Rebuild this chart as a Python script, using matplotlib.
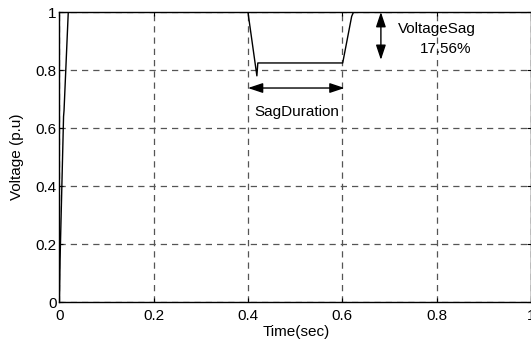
import matplotlib
matplotlib.use("Agg")
import matplotlib.pyplot as plt

# Voltage waveform breakpoints (time in s, voltage in p.u.)
time = [0.0, 0.0015, 0.009, 0.010, 0.019, 0.400, 0.419, 0.421, 0.601, 0.620, 0.624, 1.0]
voltage = [0.0, 0.14, 0.64, 0.66, 1.0, 1.0, 0.78, 0.8244, 0.8244, 0.985, 1.0, 1.0]

xticks = [0, 0.2, 0.4, 0.6, 0.8, 1]
yticks = [0, 0.2, 0.4, 0.6, 0.8, 1]
xtick_labels = ["0", "0.2", "0.4", "0.6", "0.8", "1"]
ytick_labels = ["0", "0.2", "0.4", "0.6", "0.8", "1"]

sag_start, sag_end = 0.4, 0.605
sag_level = 0.8244

plt.rcParams['font.family'] = ['Liberation Sans', 'DejaVu Sans']
FS = 11

fig = plt.figure(figsize=(5.31, 3.44), dpi=100)
ax = fig.add_axes([0.1117, 0.122, 0.888, 0.843])

ax.plot(time, voltage, color='black', lw=1.0)

ax.set_xlim(0, 1)
ax.set_ylim(0, 1)
ax.set_xticks(xticks)
ax.set_xticklabels(xtick_labels)
ax.set_yticks(yticks)
ax.set_yticklabels(ytick_labels)
ax.tick_params(direction='in', length=3, labelsize=FS, top=True, right=True,
               colors='black', width=0.8)
ax.tick_params(axis='x', pad=5)
ax.tick_params(axis='y', pad=2)
ax.grid(True, color='#555555', linestyle=(0, (5, 4)), lw=0.9)
for s in ax.spines.values():
    s.set_color('black')
    s.set_linewidth(1.0)

ax.set_xlabel("Time(sec)", fontsize=FS)
ax.set_ylabel("Voltage (p.u)", fontsize=FS)
ax.xaxis.set_label_coords(0.503, -0.078)
ax.yaxis.set_label_coords(-0.075, 0.5)

arrow_style = '<|-|>,head_length=0.9,head_width=0.3'

# vertical sag arrow
ax.annotate("", xy=(0.682, 0.835), xytext=(0.682, 1.0),
            arrowprops=dict(arrowstyle=arrow_style, color='black', lw=1.0,
                            mutation_scale=10, shrinkA=0, shrinkB=0))
ax.text(0.718, 0.941, "VoltageSag", fontsize=FS, ha='left', va='center')
ax.text(0.765, 0.872, "17.56%", fontsize=FS, ha='left', va='center')

# horizontal duration arrow
ax.annotate("", xy=(sag_start, 0.738), xytext=(sag_end, 0.738),
            arrowprops=dict(arrowstyle=arrow_style, color='black', lw=1.0,
                            mutation_scale=10, shrinkA=0, shrinkB=0))
ax.text(0.504, 0.655, "SagDuration", fontsize=FS, ha='center', va='center')

fig.savefig("out.png", dpi=100)
